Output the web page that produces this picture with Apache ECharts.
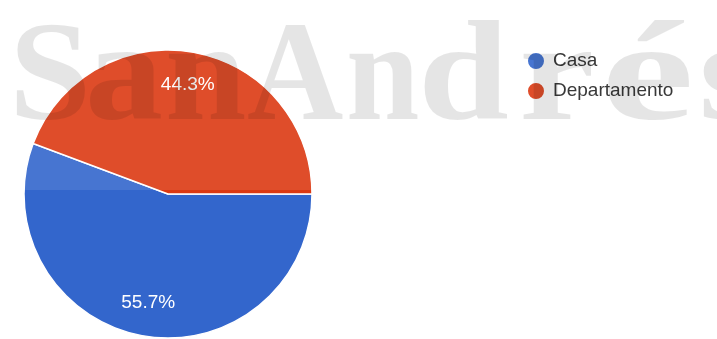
<!DOCTYPE html>
<html>
<head>
<meta charset="utf-8">
<script src="https://cdn.jsdelivr.net/npm/echarts@6/dist/echarts.min.js"></script>
<style>
html,body{margin:0;padding:0;background:#fff;}
#chart{width:717px;height:339px;}
</style>
</head>
<body>
<div id="chart"></div>
<script>
// Data
var categories = ['Casa', 'Departamento'];
var values = [55.7, 44.3];
var colors = ['#3366cc', '#dc3912'];

// Watermark letters (decoration only)
var wmLetters = ['S', 'a', 'n', 'A', 'n', 'd', 'r', 'é', 's'];
var wmX = [9, 85, 165, 247, 346, 418, 519, 601, 699];
var wmScale = [1.04, 1.1, 1.03, 0.94, 0.93, 1.15, 1.2, 1.48, 1.1];

var data = categories.map(function (c, i) { return { name: c, value: values[i] }; });

var graphics = [{
  type: 'rect', z: 100, silent: true,
  shape: { x: 0, y: 0, width: 717, height: 190 },
  style: { fill: 'rgba(255,255,255,0.1)' }
}];
wmLetters.forEach(function (ch, i) {
  graphics.push({
    type: 'text', z: 101, silent: true,
    x: wmX[i], y: 153,
    scaleX: wmScale[i],
    style: {
      text: ch,
      fill: 'rgba(0,0,0,0.1)',
      font: 'bold 142px "Liberation Serif", serif',
      align: 'left',
      verticalAlign: 'bottom'
    }
  });
});

var chart = echarts.init(document.getElementById('chart'), null, { renderer: 'canvas' });
chart.setOption({
  animation: false,
  color: colors,
  legend: {
    orient: 'vertical',
    left: 526, top: 51,
    padding: 0,
    itemWidth: 18, itemHeight: 18, itemGap: 10,
    icon: 'circle',
    data: categories,
    textStyle: { fontFamily: 'Liberation Sans, Arial, sans-serif', fontSize: 19, color: '#222', padding: [0, 0, 0, 3] }
  },
  graphic: graphics,
  series: [{
    type: 'pie',
    center: [168, 194],
    radius: [0, 144],
    startAngle: 0,
    clockwise: true,
    silent: true,
    percentPrecision: 1,
    itemStyle: { borderColor: '#fff', borderWidth: 1.5 },
    label: { show: false },
    labelLine: { show: false },
    data: data
  }, {
    type: 'pie',
    center: [168, 194],
    radius: [72, 144],
    startAngle: 0,
    clockwise: true,
    silent: true,
    percentPrecision: 1,
    itemStyle: { opacity: 0 },
    label: {
      show: true, position: 'inside', formatter: '{d}%',
      color: '#fff', fontSize: 19, fontFamily: 'Liberation Sans, Arial, sans-serif',
      opacity: 1
    },
    labelLine: { show: false },
    emphasis: { disabled: true },
    data: data
  }]
});
</script>
</body>
</html>
